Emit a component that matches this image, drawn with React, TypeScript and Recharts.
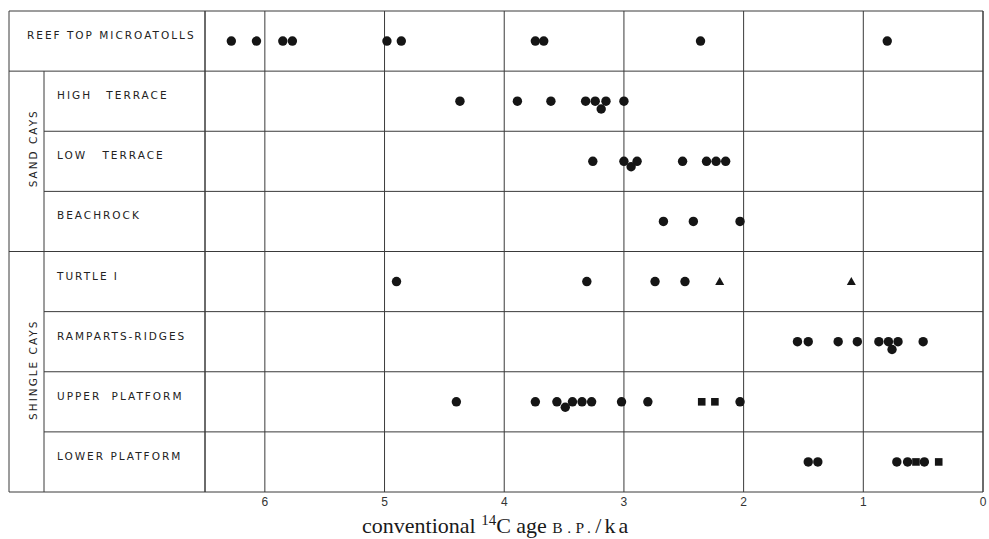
import React from 'react';
import { ScatterChart, Scatter, XAxis, YAxis, CartesianGrid, ReferenceLine } from 'recharts';

// ---- data ----
const rowLabels = [
  'REEF TOP MICROATOLLS',
  'HIGH TERRACE',
  'LOW TERRACE',
  'BEACHROCK',
  'TURTLE I',
  'RAMPARTS-RIDGES',
  'UPPER PLATFORM',
  'LOWER PLATFORM',
];
const groupLabels = ['SAND CAYS', 'SHINGLE CAYS'];
const ageTicks = [0, 1, 2, 3, 4, 5, 6];

// circles (ka), per row
const reefTop = [6.28, 6.07, 5.85, 5.77, 4.98, 4.86, 3.74, 3.67, 2.36, 0.8];
const highTerrace = [4.37, 3.89, 3.61, 3.32, 3.24, 3.15, 3.0];
const highTerraceLow = [3.19];
const lowTerrace = [3.26, 3.0, 2.89, 2.51, 2.31, 2.23, 2.15];
const lowTerraceLow = [2.94];
const beachrock = [2.67, 2.42, 2.03];
const turtle = [4.9, 3.31, 2.74, 2.49];
const turtleTriangles = [2.2, 1.1];
const ramparts = [1.55, 1.46, 1.21, 1.05, 0.87, 0.79, 0.71, 0.5];
const rampartsLow = [0.76];
const upperPlatform = [4.4, 3.74, 3.56, 3.43, 3.35, 3.27, 3.02, 2.8, 2.03];
const upperPlatformLow = [3.49];
const upperSquares = [2.35, 2.24];
const lowerPlatform = [1.46, 1.38, 0.72, 0.63, 0.49];
const lowerSquares = [0.56, 0.37];

// ---- layout (svg coords == page coords) ----
const W = 989;
const H = 539;
const MARGIN = { top: 11, right: 6, bottom: 0, left: 8 };
const Y_AXIS_W = 197;
const AXIS_X = MARGIN.left + Y_AXIS_W;
const PLOT_BOTTOM = 492;
const X_AXIS_H = H - PLOT_BOTTOM;
const ROW_H = (PLOT_BOTTOM - MARGIN.top) / 8;
const PANEL_L = 9;
const DIV_X = 44;
const LINE = '#3a3a3a';
const INK = '#151515';
const LABEL_FONT = '"DejaVu Sans", sans-serif';
const LABEL_WORD_SPACING: Record<number, number> = { 1: 9, 2: 10, 6: 5 };

const center = (i: number) => i + 0.5;
const pts = (vals: number[], row: number, off = 0) => vals.map((age) => ({ age, row: center(row) + off }));

const circleData = [
  ...pts(reefTop, 0),
  ...pts(highTerrace, 1),
  ...pts(highTerraceLow, 1, 0.13),
  ...pts(lowTerrace, 2),
  ...pts(lowTerraceLow, 2, 0.09),
  ...pts(beachrock, 3),
  ...pts(turtle, 4),
  ...pts(ramparts, 5),
  ...pts(rampartsLow, 5, 0.13),
  ...pts(upperPlatform, 6),
  ...pts(upperPlatformLow, 6, 0.09),
  ...pts(lowerPlatform, 7),
];
const triangleData = [...pts(turtleTriangles, 4)];
const squareData = [...pts(upperSquares, 6), ...pts(lowerSquares, 7)];

const CircleShape = (p: any) => <circle cx={p.cx} cy={p.cy} r={4.7} fill={INK} />;
const TriangleShape = (p: any) => (
  <polygon points={`${p.cx},${p.cy - 4.5} ${p.cx + 4.5},${p.cy + 3.5} ${p.cx - 4.5},${p.cy + 3.5}`} fill={INK} />
);
const SquareShape = (p: any) => <rect x={p.cx - 3.8} y={p.cy - 3.8} width={7.6} height={7.6} fill={INK} />;

function RowTick(props: any) {
  const { y, payload } = props;
  const i = Math.floor(payload.value);
  const top = y - ROW_H / 2;
  const bottom = y + ROW_H / 2;
  const full = i === 0 || i === 3 || i === 7;
  const textStyle = { fontFamily: LABEL_FONT, fontSize: 10.5, letterSpacing: 2, fill: '#222' } as any;
  return (
    <g>
      {i === 0 && <line x1={PANEL_L} x2={AXIS_X} y1={top} y2={top} stroke={LINE} strokeWidth={1} />}
      {i === 0 && <line x1={PANEL_L} x2={PANEL_L} y1={top} y2={top + 8 * ROW_H} stroke={LINE} strokeWidth={1} />}
      {i === 1 && <line x1={DIV_X} x2={DIV_X} y1={top} y2={top + 7 * ROW_H} stroke={LINE} strokeWidth={1} />}
      <line x1={full ? PANEL_L : DIV_X} x2={AXIS_X} y1={bottom} y2={bottom} stroke={LINE} strokeWidth={1} />
      <text
        x={i === 0 ? 27 : 57}
        y={y - 6}
        dominantBaseline="central"
        style={{ ...textStyle, wordSpacing: LABEL_WORD_SPACING[i] || 0 }}
      >
        {rowLabels[i]}
      </text>
      {i === 2 && (
        <text transform={`translate(33, ${y - 13}) rotate(-90)`} textAnchor="middle" dominantBaseline="central" style={textStyle}>
          {groupLabels[0]}
        </text>
      )}
      {i === 5 && (
        <text transform={`translate(33, ${y + ROW_H / 2 - 2}) rotate(-90)`} textAnchor="middle" dominantBaseline="central" style={textStyle}>
          {groupLabels[1]}
        </text>
      )}
    </g>
  );
}

const AxisTitle = () => (
  <text x={362} y={533} style={{ fontFamily: '"Liberation Serif", serif', fontSize: 22, fill: '#1a1a1a' }}>
    conventional <tspan dy={-8} fontSize={15}>14</tspan>
    <tspan dy={8}>C age </tspan>
    <tspan fontSize={15.5} letterSpacing={4.5}>B.P.</tspan>
    <tspan letterSpacing={3}>/ka</tspan>
  </text>
);

export default function App() {
  return (
    <div style={{ position: 'fixed', top: 0, left: 0, width: W, height: H, overflow: 'hidden', background: '#fff' }}>
      <ScatterChart width={W} height={H} margin={MARGIN}>
        <CartesianGrid horizontal={false} vertical stroke={LINE} strokeWidth={1} />
        <XAxis
          type="number"
          dataKey="age"
          domain={[0, 6.5]}
          reversed
          ticks={ageTicks}
          interval={0}
          allowDataOverflow
          height={X_AXIS_H}
          axisLine={false}
          tickLine={false}
          tickSize={0}
          tickMargin={5}
          tick={{ fill: '#333', fontSize: 12, fontFamily: '"Liberation Sans", Arial, sans-serif' }}
          label={{ content: AxisTitle as any }}
        />
        <YAxis
          type="number"
          dataKey="row"
          domain={[0, 8]}
          reversed
          ticks={[0.5, 1.5, 2.5, 3.5, 4.5, 5.5, 6.5, 7.5]}
          interval={0}
          width={Y_AXIS_W}
          axisLine={false}
          tickLine={false}
          tick={<RowTick />}
        />
        {[0, 1, 2, 3, 4, 5, 6, 7, 8].map((k) => (
          <ReferenceLine key={`h${k}`} y={k} stroke={LINE} strokeWidth={1} />
        ))}
        <ReferenceLine x={6.5} stroke={LINE} strokeWidth={1} />
        <ReferenceLine x={0} stroke={LINE} strokeWidth={1} />
        <Scatter data={circleData} shape={CircleShape} isAnimationActive={false} />
        <Scatter data={triangleData} shape={TriangleShape} isAnimationActive={false} />
        <Scatter data={squareData} shape={SquareShape} isAnimationActive={false} />
      </ScatterChart>
    </div>
  );
}
